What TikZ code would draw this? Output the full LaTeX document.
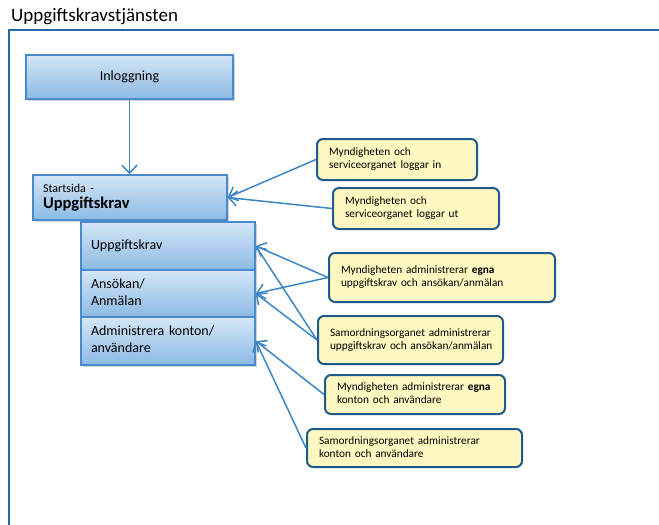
\documentclass[tikz,border=0pt]{standalone}
\usepackage{fontspec}
\setmainfont{Carlito}
\usetikzlibrary{arrows.meta,shadows}
\definecolor{frameblue}{HTML}{1F6AA8}
\definecolor{boxtop}{HTML}{D5E6F6}
\definecolor{boxbot}{HTML}{8CBAE4}
\definecolor{boxedge}{HTML}{4A8CCB}
\definecolor{notefill}{HTML}{FFF8C0}
\definecolor{noteedge}{HTML}{1F5A8C}
\definecolor{linkblue}{HTML}{3D87C6}
% two-line label set flush left without line breaking
\newcommand{\lines}[1]{\begin{tabular}{@{}l@{}}#1\end{tabular}}
\hbadness=10000 \hfuzz=100pt
\begin{document}
\begin{tikzpicture}[x=1pt,y=-1pt,
  menubox/.style={draw=boxedge, line width=1.5pt, top color=boxtop, bottom color=boxbot,
    drop shadow={shadow xshift=1.5pt, shadow yshift=-1.5pt, opacity=0.35},
    inner xsep=10pt, inner ysep=2pt, align=left, font=\fontsize{14}{17}\selectfont},
  notebox/.style={draw=noteedge, line width=2pt, fill=notefill, rounded corners=6pt,
    inner xsep=12pt, inner ysep=2pt, align=left, font=\fontsize{11.3}{13}\selectfont},
  link/.style={draw=linkblue, line width=1.5pt, -{Straight Barb[length=8pt,width=15pt]}}
]
\useasboundingbox (0,0) rectangle (659,525);

% title and open frame
\node[anchor=west, inner sep=0pt, font=\fontsize{19}{22}\selectfont] (title) at (11,17) {Uppgiftskravstjänsten};
\draw[frameblue, line width=1.8pt] (9,525) -- (9,30) -- (659,30);

% navigation boxes
\node[menubox, minimum width=207pt, minimum height=44pt, align=center] (login) at (129.5,77) {Inloggning};
\node[menubox, minimum width=194pt, minimum height=45pt, text width=174pt] (start) at (130,197.5)
  {{\fontsize{12}{13}\selectfont Startsida -}\\[-1pt]{\fontsize{16.5}{19}\selectfont\bfseries Uppgiftskrav}};
\node[menubox, minimum width=174pt, minimum height=48pt, text width=154pt] (req) at (168,246) {Uppgiftskrav};
\node[menubox, minimum width=174pt, minimum height=47pt, text width=154pt] (app) at (168,293.5) {\lines{Ansökan/\\Anmälan}};
\node[menubox, minimum width=174pt, minimum height=48pt, text width=154pt] (acc) at (168,341) {\lines{Administrera konton/\\användare}};

% notes
\node[notebox, minimum width=160pt, minimum height=41pt, text width=136pt] (n1) at (397,159.5)
  {\lines{Myndigheten och\\serviceorganet loggar in}};
\node[notebox, minimum width=166pt, minimum height=41pt, text width=142pt] (n2) at (416,208.5)
  {\lines{Myndigheten och\\serviceorganet loggar ut}};
\node[notebox, minimum width=226pt, minimum height=49pt, text width=202pt] (n3) at (442,277.5)
  {\lines{Myndigheten administrerar \textbf{egna}\\uppgiftskrav och ansökan/anmälan}};
\node[notebox, minimum width=185pt, minimum height=48pt, text width=161pt] (n4) at (410.5,340)
  {\lines{Samordningsorganet administrerar\\uppgiftskrav och ansökan/anmälan}};
\node[notebox, minimum width=180pt, minimum height=39pt, text width=156pt] (n5) at (415,394.5)
  {\lines{Myndigheten administrerar \textbf{egna}\\konton och användare}};
\node[notebox, minimum width=215pt, minimum height=38pt, text width=191pt] (n6) at (414.5,448)
  {\lines{Samordningsorganet administrerar\\konton och användare}};

% connectors
\draw[link] (login.south) -- (login.south |- start.north);
\draw[link] (n1.west) -- (start.east);
\draw[link] (n2.west) -- (start.east);
\draw[link] (n3.west) -- (req.east);
\draw[link] (n3.west) -- (app.east);
\draw[link] (n4.west) -- (req.east);
\draw[link] (n4.west) -- (app.east);
\draw[link] (n5.west) -- (acc.east);
\draw[link] (n6.west) -- (acc.east);
\end{tikzpicture}
\end{document}
